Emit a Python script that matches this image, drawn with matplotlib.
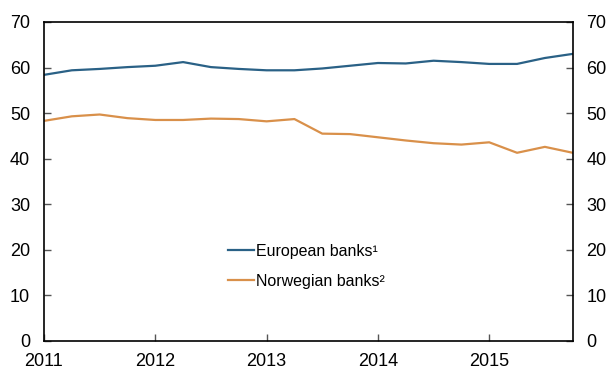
import matplotlib
matplotlib.use("Agg")
import matplotlib.pyplot as plt
import numpy as np

plt.rcParams['font.family'] = ['Liberation Sans', 'DejaVu Sans']

# Quarterly observations, 2011 Q1 to 2015 Q4
quarters = np.arange(2011.0, 2016.0, 0.25)
european = [58.4, 59.4, 59.7, 60.1, 60.4, 61.2, 60.1, 59.7, 59.4, 59.4,
            59.8, 60.4, 61.0, 60.9, 61.5, 61.2, 60.8, 60.8, 62.1, 63.0]
norwegian = [48.3, 49.3, 49.7, 48.9, 48.5, 48.5, 48.8, 48.7, 48.2, 48.7,
             45.5, 45.4, 44.7, 44.0, 43.4, 43.1, 43.6, 41.3, 42.6, 41.3]
series_labels = ["European banks\u00b9", "Norwegian banks\u00b2"]
year_ticks = [2011, 2012, 2013, 2014, 2015]
y_ticks = [0, 10, 20, 30, 40, 50, 60, 70]

blue = "#2a6186"
orange = "#d9904a"

fig = plt.figure(figsize=(6.09, 3.69), dpi=100)
ax = fig.add_axes([0.0722, 0.0759, 0.8682, 0.8645])

ax.plot(quarters, european, color=blue, lw=1.6, label=series_labels[0])
ax.plot(quarters, norwegian, color=orange, lw=1.6, label=series_labels[1])

ax.set_xlim(2011.0, 2015.75)
ax.set_ylim(0, 70)
ax.set_xticks(year_ticks)
ax.set_xticklabels([str(y) for y in year_ticks])
ax.set_yticks(y_ticks)

ax.tick_params(axis='y', which='both', direction='in', length=5, width=1,
               color='#555555', labelsize=13, pad=10,
               left=True, right=True, labelleft=True, labelright=True)
ax.tick_params(axis='x', direction='in', length=5, width=1, color='#555555',
               labelsize=13, pad=9)
for s in ax.spines.values():
    s.set_linewidth(1.2)
    s.set_color('black')

leg = ax.legend(loc='upper left', bbox_to_anchor=(0.348, 0.305), frameon=False,
                fontsize=11.5, handlelength=1.63, handletextpad=0.12,
                labelspacing=0.94, borderaxespad=0, borderpad=0)

fig.savefig("out.png", dpi=100)
